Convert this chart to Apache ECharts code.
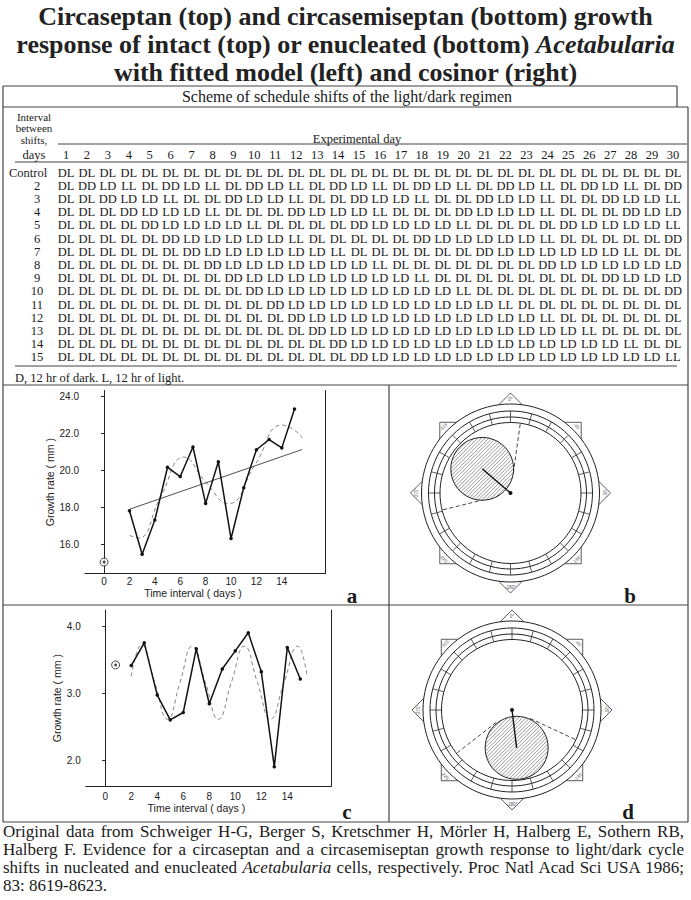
<!DOCTYPE html>
<html>
<head>
<meta charset="utf-8">
<title>Circaseptan and circasemiseptan growth response</title>
<script src="https://cdn.jsdelivr.net/npm/echarts@6.0.0/dist/echarts.min.js"></script>
<style>
  html, body { margin: 0; padding: 0; background: #fff; }
  #page { position: relative; width: 691px; height: 900px; overflow: hidden; font-family: "Liberation Serif", serif; color: #1a1a1a; }
  #chart { position: absolute; left: 0; top: 0; width: 691px; height: 900px; }
  .t { position: absolute; white-space: nowrap; line-height: 1; font-size: 12.5px; }
  #title { position: absolute; left: 0; top: 3px; width: 691px; text-align: center; font-weight: bold; font-size: 26px; line-height: 28px; color: #222; }
  .cap { position: absolute; left: 3px; width: 681px; font-size: 17px; line-height: 18px; text-align: justify; text-align-last: justify; }
  .cap.last { text-align-last: left; }
  .panel { font-weight: bold; font-size: 21px; }
</style>
</head>
<body>
<div id="page">
  <div id="chart"></div>
  <div id="title">Circaseptan (top) and circasemiseptan (bottom) growth<br>response of intact (top) or enucleated (bottom) <i>Acetabularia</i><br>with fitted model (left) and cosinor (right)</div>
  <div class="cap" style="top:823px">Original data from Schweiger H-G, Berger S, Kretschmer H, Mörler H, Halberg E, Sothern RB,</div>
  <div class="cap" style="top:841px">Halberg F. Evidence for a circaseptan and a circasemiseptan growth response to light/dark cycle</div>
  <div class="cap" style="top:859px">shifts in nucleated and enucleated <i>Acetabularia</i> cells, respectively. Proc Natl Acad Sci USA 1986;</div>
  <div class="cap last" style="top:877px">83: 8619-8623.</div>
</div>
<script>
// ---------- table: schedule of light/dark shifts ----------
const tableTitle = "Scheme of schedule shifts of the light/dark regimen";
const headerLines = ["Interval", "between", "shifts,"];
const footnote = "D, 12 hr of dark. L, 12 hr of light.";
const days = [1, 2, 3, 4, 5, 6, 7, 8, 9, 10, 11, 12, 13, 14, 15, 16, 17, 18, 19, 20, 21, 22, 23, 24, 25, 26, 27, 28, 29, 30];
const rowLabels = ["Control", "2", "3", "4", "5", "6", "7", "8", "9", "10", "11", "12", "13", "14", "15"];
const schedule = [
  "DL DL DL DL DL DL DL DL DL DL DL DL DL DL DL DL DL DL DL DL DL DL DL DL DL DL DL DL DL DL",
  "DL DD LD LL DL DD LD LL DL DD LD LL DL DD LD LL DL DD LD LL DL DD LD LL DL DD LD LL DL DD",
  "DL DL DD LD LD LL DL DL DD LD LD LL DL DL DD LD LD LL DL DL DD LD LD LL DL DL DD LD LD LL",
  "DL DL DL DD LD LD LD LL DL DL DL DD LD LD LD LL DL DL DL DD LD LD LD LL DL DL DL DD LD LD",
  "DL DL DL DL DD LD LD LD LD LL DL DL DL DL DD LD LD LD LD LL DL DL DL DL DD LD LD LD LD LL",
  "DL DL DL DL DL DD LD LD LD LD LD LL DL DL DL DL DL DD LD LD LD LD LD LL DL DL DL DL DL DD",
  "DL DL DL DL DL DL DD LD LD LD LD LD LD LL DL DL DL DL DL DL DD LD LD LD LD LD LD LL DL DL",
  "DL DL DL DL DL DL DL DD LD LD LD LD LD LD LD LL DL DL DL DL DL DL DL DD LD LD LD LD LD LD",
  "DL DL DL DL DL DL DL DL DD LD LD LD LD LD LD LD LD LL DL DL DL DL DL DL DL DL DD LD LD LD",
  "DL DL DL DL DL DL DL DL DL DD LD LD LD LD LD LD LD LD LD LL DL DL DL DL DL DL DL DL DL DD",
  "DL DL DL DL DL DL DL DL DL DL DD LD LD LD LD LD LD LD LD LD LD LL DL DL DL DL DL DL DL DL",
  "DL DL DL DL DL DL DL DL DL DL DL DD LD LD LD LD LD LD LD LD LD LD LD LL DL DL DL DL DL DL",
  "DL DL DL DL DL DL DL DL DL DL DL DL DD LD LD LD LD LD LD LD LD LD LD LD LD LL DL DL DL DL",
  "DL DL DL DL DL DL DL DL DL DL DL DL DL DD LD LD LD LD LD LD LD LD LD LD LD LD LD LL DL DL",
  "DL DL DL DL DL DL DL DL DL DL DL DL DL DL DD LD LD LD LD LD LD LD LD LD LD LD LD LD LD LL"
];

// ---------- panel a: intact cells ----------
const aDays = [2, 3, 4, 5, 6, 7, 8, 9, 10, 11, 12, 13, 14, 15];
const aGrowth = [17.8, 15.45, 17.3, 20.15, 19.65, 21.25, 18.2, 20.45, 16.3, 19.05, 21.1, 21.65, 21.2, 23.3];
const aControl = [[0, 15.03]];
const aTrend = [[2, 17.88], [15.6, 21.11]];
const aFitX = [2, 2.7, 4.45, 6.3, 8.0, 9.8, 11.9, 14.0, 15.0, 15.6];
const aFitY = [16.47, 16.33, 18.55, 20.7, 19.35, 18.19, 20.3, 22.43, 22.15, 21.74];
const aYTicks = [16, 18, 20, 22, 24];

// ---------- panel c: enucleated cells ----------
const cDays = [2, 3, 4, 5, 6, 7, 8, 9, 10, 11, 12, 13, 14, 15];
const cGrowth = [3.41, 3.75, 2.97, 2.6, 2.71, 3.66, 2.84, 3.36, 3.63, 3.9, 3.32, 1.9, 3.68, 3.21];
const cControl = [[0.8, 3.42]];
const cFitX = [2.0, 2.8, 3.8, 4.8, 5.75, 6.7, 7.7, 8.7, 9.7, 10.7, 11.7, 12.7, 13.75, 14.8, 15.5];
const cFitY = [3.25, 3.72, 3.16, 2.61, 3.16, 3.7, 3.16, 2.61, 3.16, 3.7, 3.16, 2.61, 3.16, 3.7, 3.28];
const cYTicks = [2, 3, 4];

const xTicks = [0, 2, 4, 6, 8, 10, 12, 14];

// ---------- cosinor panels b and d (angles in degrees, radius in dial units) ----------
const dialAngles = [0, -45, -90, -135, -180, -225, -270, -315];
const dialLabels = ["0°", "-45°", "-90°", "-135°", "-180°", "-225°", "-270°", "-315°"];
const dialRings = [89, 82, 76, 70.5];
const bAmplitude = 37.2, bAcrophase = -310.5, bErrRadius = 31.4;
const bLimits = [-8, -256];
const dAmplitude = 38.1, dAcrophase = -173, dErrRadius = 31.5;
const dLimits = [-115, -232];

// ---------- html text ----------
const page = document.getElementById("page");
function put(txt, x, y, opts) {
  opts = opts || {};
  const el = document.createElement("div");
  el.className = "t " + (opts.cls || "");
  el.textContent = txt;
  el.style.left = x + "px";
  el.style.top = y + "px";
  if (opts.size) el.style.fontSize = opts.size + "px";
  el.style.transform = opts.left ? "translate(0,-50%)" : "translate(-50%,-50%)";
  page.appendChild(el);
}
const colX = (i) => 66 + i * 20.93;
const rowY = (i) => 172.5 + i * 13.2;

put(tableTitle, 347, 97, { size: 16 });
headerLines.forEach((s, i) => put(s, 34, 117 + i * 11.3, { size: 11 }));
put("days", 34, 155);
put("Experimental day", 357, 139);
days.forEach((d, i) => put(String(d), colX(i), 155));
rowLabels.forEach((lab, r) => {
  if (r === 0) put(lab, 9, rowY(r), { left: true });
  else put(lab, 37, rowY(r));
  schedule[r].split(" ").forEach((cell, i) => put(cell, colX(i), rowY(r)));
});
put(footnote, 15, 378, { left: true });
put("a", 352, 596, { cls: "panel" });
put("b", 630, 596, { cls: "panel" });
put("c", 347, 812, { cls: "panel" });
put("d", 628, 812, { cls: "panel" });

// ---------- chart ----------
const chart = echarts.init(document.getElementById("chart"), null, { renderer: "svg" });
const ink = "#222";
const font = { fontFamily: "Liberation Sans", fontSize: 10, color: ink };
const nameFont = { fontFamily: "Liberation Sans", fontSize: 10.5, color: ink };

function xAxisFor(gi, min, max, margin, gap) {
  return {
    gridIndex: gi, type: "value", min: min, max: max,
    axisLine: { lineStyle: { color: ink, width: 1 } },
    axisTick: { show: false },
    axisLabel: Object.assign({ customValues: xTicks, margin: margin }, font),
    splitLine: { show: false },
    name: "Time interval ( days )", nameLocation: "middle", nameGap: gap,
    nameTextStyle: Object.assign({ padding: [0, 24, 0, 0] }, nameFont)
  };
}
function yAxesFor(gi, min, max, ticks, margin, gap) {
  return [{
    gridIndex: gi, type: "value", min: min, max: max,
    axisLine: { show: true, lineStyle: { color: ink, width: 1 } },
    axisTick: { show: true, length: 3, customValues: ticks, lineStyle: { color: ink } },
    axisLabel: Object.assign({ customValues: ticks, margin: margin, formatter: (v) => v.toFixed(1) }, font),
    splitLine: { show: false },
    name: "Growth rate ( mm )", nameLocation: "middle", nameGap: gap,
    nameTextStyle: nameFont
  }, {
    gridIndex: gi, type: "value", min: min, max: max, position: "right",
    axisLine: { show: true, lineStyle: { color: ink, width: 1 } },
    axisTick: { show: false }, axisLabel: { show: false }, splitLine: { show: false }
  }];
}

function pairs(xs, ys) { return xs.map((x, i) => [x, ys[i]]); }

function cartesianSeries(gi, days, growth, control, fitX, fitY, trend) {
  const xi = gi, yi = gi * 2;
  const s = [
    { type: "line", xAxisIndex: xi, yAxisIndex: yi, data: pairs(fitX, fitY), smooth: 0.5, symbol: "none",
      lineStyle: { color: "#777", width: 0.9, type: [4, 3] }, z: 2 },
    { type: "line", xAxisIndex: xi, yAxisIndex: yi, data: pairs(days, growth), symbol: "circle", symbolSize: 3.5,
      lineStyle: { color: "#111", width: 1.5 }, itemStyle: { color: "#111" }, z: 4 },
    { type: "scatter", xAxisIndex: xi, yAxisIndex: yi, data: control, symbol: "circle", symbolSize: 8,
      itemStyle: { color: "#fff", borderColor: ink, borderWidth: 1 }, z: 5 },
    { type: "scatter", xAxisIndex: xi, yAxisIndex: yi, data: control, symbol: "circle", symbolSize: 3,
      itemStyle: { color: ink }, z: 6 }
  ];
  if (trend) s.push({ type: "line", xAxisIndex: xi, yAxisIndex: yi, data: trend, symbol: "none",
    lineStyle: { color: ink, width: 0.8 }, z: 3 });
  return s;
}

// dial furniture drawn through the polar system
function dialRender(params, api) {
  const c = api.coord([0, -360]);
  const k = (c[1] - api.coord([100, -360])[1]) / 100;
  const pts = (r, angs) => angs.map((a) => api.coord([r, a]));
  const line = { stroke: "#333", lineWidth: 0.8 };
  const kids = [
    { type: "polygon", shape: { points: pts(100, [-45, -135, -225, -315]) }, style: { fill: "#fff", stroke: "#333", lineWidth: 0.8 } },
    { type: "polygon", shape: { points: pts(100, [0, -90, -180, -270]) }, style: { fill: "#fff", stroke: "#333", lineWidth: 0.8 } }
  ];
  dialRings.forEach((r, i) => kids.push({ type: "circle", shape: { cx: c[0], cy: c[1], r: r * k },
    style: { fill: i === 0 ? "#fff" : "none", stroke: "#222", lineWidth: 1 } }));
  for (let a = 0; a > -360; a -= 15) {
    const p1 = api.coord([dialRings[3], a]), p2 = api.coord([dialRings[1], a]);
    kids.push({ type: "line", shape: { x1: p1[0], y1: p1[1], x2: p2[0], y2: p2[1] }, style: line });
  }
  dialAngles.forEach((a, i) => {
    const p = api.coord([94, a]);
    const th = -a;
    let rot = -th;
    if (th > 90 && th < 270) rot += 180;
    kids.push({ type: "text", x: p[0], y: p[1], rotation: rot * Math.PI / 180,
      style: { text: dialLabels[i], x: 0, y: 0, fontSize: 4.5, fontFamily: "Liberation Sans", fill: "#555", align: "center", verticalAlign: "middle" } });
  });
  return { type: "group", children: kids };
}

function errRender(params, api) {
  const c = api.coord([0, -360]);
  const k = (c[1] - api.coord([100, -360])[1]) / 100;
  const p = api.coord([api.value(0), api.value(1)]);
  const R = api.value(2) * k;
  const kids = [{ type: "circle", shape: { cx: p[0], cy: p[1], r: R }, style: { fill: "#fff", stroke: "none" } }];
  const s = Math.SQRT1_2;
  for (let d = -R + 1.3; d < R; d += 2.6) {
    const h = Math.sqrt(R * R - d * d);
    const mx = p[0] + d * s, my = p[1] + d * s;
    kids.push({ type: "line", shape: { x1: mx - h * s, y1: my + h * s, x2: mx + h * s, y2: my - h * s },
      style: { stroke: "#555", lineWidth: 0.6 } });
  }
  kids.push({ type: "circle", shape: { cx: p[0], cy: p[1], r: R }, style: { fill: "none", stroke: "#222", lineWidth: 1 } });
  return { type: "group", children: kids };
}

function cosinorSeries(pi, amp, phase, err, limits) {
  const s = [
    { type: "custom", coordinateSystem: "polar", polarIndex: pi, data: [[0, -360]], renderItem: dialRender, z: 1, silent: true }
  ];
  limits.forEach((lim) => s.push({ type: "line", coordinateSystem: "polar", polarIndex: pi, symbol: "none",
    data: [[20, lim], [dialRings[3], lim]], lineStyle: { color: "#333", width: 0.9, type: [4, 2.5] }, z: 2 }));
  s.push({ type: "custom", coordinateSystem: "polar", polarIndex: pi, data: [[amp, phase, err]], renderItem: errRender, z: 3 });
  s.push({ type: "line", coordinateSystem: "polar", polarIndex: pi,
    data: [{ value: [0, phase], symbol: "circle", symbolSize: 4 }, { value: [amp, phase], symbol: "none" }],
    lineStyle: { color: "#111", width: 1.4 }, itemStyle: { color: "#111" }, z: 4 });
  return s;
}

const frame = [
  [3, 86, 677, 86], [677, 86, 677, 107], [3, 107, 688, 107],
  [3, 86, 3, 822], [688, 107, 688, 822], [3, 822, 688, 822],
  [58, 144, 687, 144], [15, 162, 687, 162], [15, 366, 677, 366],
  [3, 385, 688, 385], [3, 605, 688, 605], [389, 385, 389, 822]
];

chart.setOption({
  animation: false,
  backgroundColor: "#fff",
  grid: [
    { left: 85, top: 390.5, width: 240, height: 183.2 },
    { left: 85.7, top: 610, width: 245.3, height: 176.2 }
  ],
  xAxis: [xAxisFor(0, -1.5, 17.4, 3, 12), xAxisFor(1, -1.5, 17.36, 5, 14)],
  yAxis: yAxesFor(0, 14.4, 24.3, aYTicks, 6, 23).concat(yAxesFor(1, 1.61, 4.24, cYTicks, 5, 17)),
  polar: [
    { center: [510.5, 493], radius: 100 },
    { center: [512, 710], radius: 100 }
  ],
  angleAxis: [
    { polarIndex: 0, min: -360, max: 0, startAngle: 90, clockwise: false, show: false },
    { polarIndex: 1, min: -360, max: 0, startAngle: 90, clockwise: false, show: false }
  ],
  radiusAxis: [
    { polarIndex: 0, min: 0, max: 100, show: false },
    { polarIndex: 1, min: 0, max: 100, show: false }
  ],
  graphic: frame.map((f) => ({ type: "line", shape: { x1: f[0], y1: f[1], x2: f[2], y2: f[3] },
    style: { stroke: "#444", lineWidth: 1.2 }, silent: true })),
  series: [].concat(
    cartesianSeries(0, aDays, aGrowth, aControl, aFitX, aFitY, aTrend),
    cartesianSeries(1, cDays, cGrowth, cControl, cFitX, cFitY, null),
    cosinorSeries(0, bAmplitude, bAcrophase, bErrRadius, bLimits),
    cosinorSeries(1, dAmplitude, dAcrophase, dErrRadius, dLimits)
  )
});
</script>
</body>
</html>
